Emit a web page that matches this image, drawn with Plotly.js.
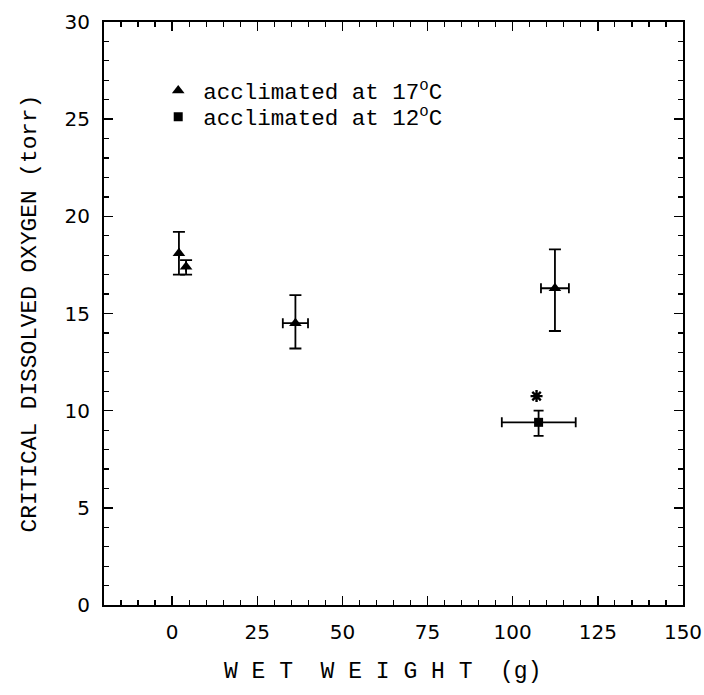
<!DOCTYPE html>
<html>
<head>
<meta charset="utf-8">
<script src="https://cdn.plot.ly/plotly-3.0.1.min.js"></script>
<style>html,body{margin:0;padding:0;background:#fff;}#chart{width:704px;height:695px;}</style>
</head>
<body>
<div id="chart"></div>
<script>
// Acclimated at 17 °C
const x17 = [2.0, 4.1, 36.2, 112.4];
const y17 = [18.1, 17.4, 14.5, 16.3];
const y17ErrPlus = [1.1, 0.35, 1.45, 2.0];
const y17ErrMinus = [1.1, 0.4, 1.3, 2.2];
const x17Err = [0, 0, 3.7, 4.1];

// Acclimated at 12 °C
const x12 = [107.6];
const y12 = [9.4];
const y12ErrPlus = [0.6];
const y12ErrMinus = [0.7];
const x12ErrPlus = [10.9];
const x12ErrMinus = [10.8];

// significance marker
const starX = [107.0];
const starY = [10.75];

const xTicks = [0, 25, 50, 75, 100, 125, 150];
const yTicks = [0, 5, 10, 15, 20, 25, 30];

const mono = 'Liberation Mono, Courier New, monospace';
const sans = 'DejaVu Sans, Arial, sans-serif';
const nb = '\u00a0';

const traces = [
  {
    x: x17, y: y17, type: 'scatter', mode: 'markers',
    name: 'acclimated at 17<sup>o</sup>C', legend: 'legend',
    marker: {symbol: 'triangle-up', size: 11, color: '#000'},
    error_y: {type: 'data', symmetric: false, array: y17ErrPlus, arrayminus: y17ErrMinus, color: '#000', thickness: 1.8, width: 6},
    error_x: {type: 'data', array: x17Err, color: '#000', thickness: 1.8, width: 5}
  },
  {
    x: x12, y: y12, type: 'scatter', mode: 'markers',
    name: 'acclimated at 12<sup>o</sup>C', legend: 'legend2',
    marker: {symbol: 'square', size: 9, color: '#000'},
    error_y: {type: 'data', symmetric: false, array: y12ErrPlus, arrayminus: y12ErrMinus, color: '#000', thickness: 1.8, width: 5},
    error_x: {type: 'data', symmetric: false, array: x12ErrPlus, arrayminus: x12ErrMinus, color: '#000', thickness: 1.8, width: 5}
  },
  {
    x: starX, y: starY, type: 'scatter', mode: 'markers',
    marker: {symbol: 'asterisk-open', size: 10, color: '#000', line: {color: '#000', width: 2.4}},
    showlegend: false, hoverinfo: 'skip'
  }
];

const axisCommon = {
  showline: true, linecolor: '#000', linewidth: 2, mirror: 'allticks',
  ticks: 'inside', ticklen: 9, tickwidth: 1.5, tickcolor: '#000',
  showgrid: false, zeroline: false,
  tickfont: {family: sans, size: 20, color: '#000'}
};

const legendCommon = {
  xanchor: 'left', yanchor: 'middle', itemwidth: 40,
  font: {family: mono, size: 22.5, color: '#000'},
  bgcolor: 'rgba(0,0,0,0)', borderwidth: 0
};

const xTitle = ['W', 'E', 'T'].join(nb) + nb.repeat(2) +
  ['W', 'E', 'I', 'G', 'H', 'T'].join(nb) + nb.repeat(2) + '(g)';

const layout = {
  width: 704, height: 695,
  margin: {l: 104, r: 21, t: 22, b: 90},
  paper_bgcolor: '#fff', plot_bgcolor: '#fff',
  showlegend: true,
  legend: Object.assign({}, legendCommon, {x: 0.085, y: 0.8817}),
  legend2: Object.assign({}, legendCommon, {x: 0.085, y: 0.8370}),
  xaxis: Object.assign({}, axisCommon, {
    range: [-20, 150], tickmode: 'array', tickvals: xTicks, ticktext: xTicks.map(String),
    minor: {dtick: 5, tick0: 0, ticks: 'inside', ticklen: 5, tickwidth: 1.2, tickcolor: '#000', showgrid: false},
    ticklabelstandoff: 8
  }),
  yaxis: Object.assign({}, axisCommon, {
    range: [0, 30], tickmode: 'array', tickvals: yTicks, ticktext: yTicks.map(String),
    minor: {dtick: 1, tick0: 0, ticks: 'inside', ticklen: 5, tickwidth: 1.2, tickcolor: '#000', showgrid: false},
    ticklabelstandoff: 8,
    title: {text: 'CRITICAL DISSOLVED OXYGEN (torr)', font: {family: mono, size: 22.8, color: '#000'}, standoff: 22}
  }),
  annotations: [{
    text: xTitle, xref: 'paper', yref: 'paper', x: 0.481, y: -0.115,
    xanchor: 'center', yanchor: 'middle', showarrow: false,
    font: {family: mono, size: 23, color: '#000'}
  }]
};

Plotly.newPlot('chart', traces, layout, {displayModeBar: false, staticPlot: true});
</script>
</body>
</html>
